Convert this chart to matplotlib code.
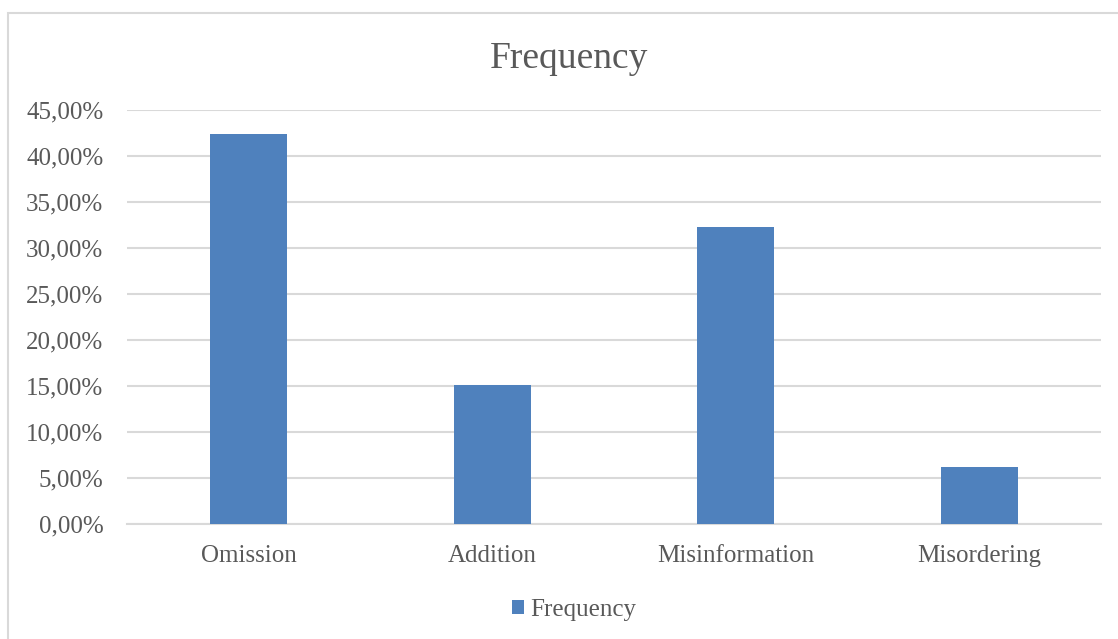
#!/usr/bin/env python3
"""Error type frequency bar chart in an Excel-like style."""

import matplotlib

matplotlib.use("Agg")
import matplotlib.pyplot as plt
from matplotlib.patches import Rectangle
from matplotlib.ticker import FuncFormatter

categories = ["Omission", "Addition", "Misinformation", "Misordering"]
frequency = [42.4, 15.1, 32.3, 6.2]
y_ticks = [0, 5, 10, 15, 20, 25, 30, 35, 40, 45]
series_name = "Frequency"

BAR_COLOR = "#4f81bd"
TEXT_COLOR = "#595959"
GRID_COLOR = "#d9d9d9"

W, H = 1118, 639
fig = plt.figure(figsize=(W / 100, H / 100), dpi=100)
plt.rcParams["font.family"] = ["Liberation Serif", "DejaVu Serif"]

# chart frame, cut off at right and bottom like the screenshot
fig.patches.append(
    Rectangle((8 / W, -0.1), 1.2, 1 - 13.5 / H + 0.1, transform=fig.transFigure,
              fill=False, edgecolor=GRID_COLOR, linewidth=1.5)
)

ax = fig.add_axes([127 / W, 1 - 524 / H, (1101 - 127) / W, (524 - 110) / H])
x = range(len(categories))
ax.bar(x, frequency, width=0.316, color=BAR_COLOR, label=series_name, zorder=3)
ax.set_xlim(-0.5, len(categories) - 0.5)
ax.set_ylim(0, 45)
ax.set_yticks(y_ticks)
ax.yaxis.set_major_formatter(
    FuncFormatter(lambda v, _: f"{v:.2f}".replace(".", ",") + "%")
)
ax.set_xticks(list(x))
ax.set_xticklabels(categories)
ax.grid(axis="y", color=GRID_COLOR, linewidth=1.5, zorder=0)
ax.set_axisbelow(True)
for side in ("top", "right", "left"):
    ax.spines[side].set_visible(False)
ax.spines["bottom"].set_color(GRID_COLOR)
ax.spines["bottom"].set_linewidth(1.5)
ax.tick_params(axis="y", length=0, colors=TEXT_COLOR, labelsize=18, pad=17)
ax.tick_params(axis="x", length=0, colors=TEXT_COLOR, labelsize=18, pad=15)

fig.text(569 / W, 1 - 59 / H, "Frequency", ha="center", va="center",
         fontsize=27, color=TEXT_COLOR)

leg = fig.legend(loc="center", bbox_to_anchor=(574 / W, 1 - 610 / H),
                 frameon=False, fontsize=18, handlelength=0.5, handleheight=0.5,
                 handletextpad=0.25)
for text in leg.get_texts():
    text.set_color(TEXT_COLOR)

fig.savefig("out.png", dpi=100)
